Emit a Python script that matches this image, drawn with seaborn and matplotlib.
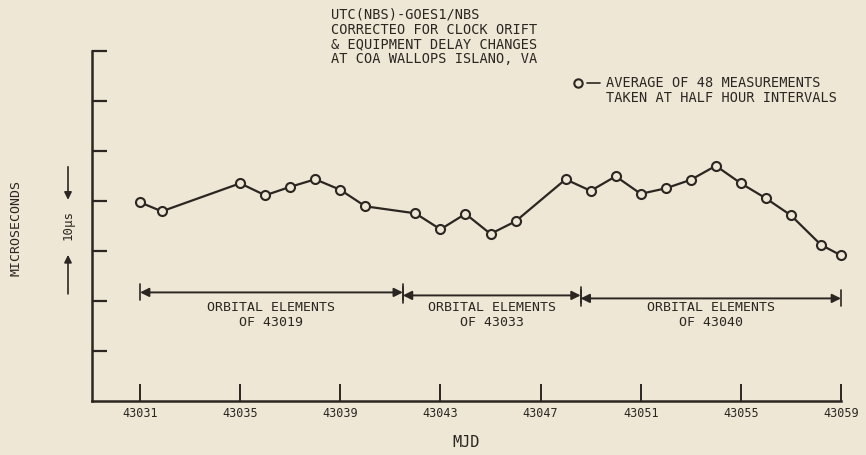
import matplotlib
matplotlib.use("Agg")
import matplotlib.pyplot as plt
import matplotlib.transforms as mtransforms
from matplotlib.lines import Line2D
import seaborn as sns
import numpy as np
import pandas as pd

# data (MJD, relative offset in microseconds)
mjd = [43031, 43031.87, 43035, 43036, 43037, 43038, 43039, 43040, 43042, 43043,
       43044, 43045, 43046, 43048, 43049, 43050, 43051, 43052, 43053, 43054,
       43055, 43056, 43057, 43058.2, 43059]
offset_us = [39.7, 37.9, 43.5, 41.1, 42.8, 44.3, 42.2, 38.9, 37.5, 34.3,
             37.4, 33.4, 35.9, 44.3, 42.0, 44.9, 41.4, 42.5, 44.2, 47.0,
             43.5, 40.5, 37.1, 31.2, 29.1]

x_ticks = [43031, 43035, 43039, 43043, 43047, 43051, 43055, 43059]
y_ticks = [10, 20, 30, 40, 50, 60, 70]

seg_bounds = [43031, 43041.5, 43048.6, 43059]
seg_y = [21.7, 21.1, 20.5]
seg_labels = ["ORBITAL ELEMENTS\nOF 43019", "ORBITAL ELEMENTS\nOF 43033", "ORBITAL ELEMENTS\nOF 43040"]

title_lines = ["UTC(NBS)-GOES1/NBS", "CORRECTEO FOR CLOCK ORIFT",
               "& EQUIPMENT DELAY CHANGES", "AT COA WALLOPS ISLANO, VA"]
legend_lines = ["AVERAGE OF 48 MEASUREMENTS", "TAKEN AT HALF HOUR INTERVALS"]

BG = "#eee7d5"
INK = "#2b2622"

sns.set_theme(style="white")
plt.rcParams["font.family"] = ["DejaVu Sans Mono", "DejaVu Sans"]
plt.rcParams["text.color"] = INK

fig = plt.figure(figsize=(8.66, 4.55), dpi=100, facecolor=BG)
ax = fig.add_axes([91.7 / 866, 54 / 455, 749.3 / 866, 350.3 / 455])
ax.set_facecolor(BG)

df = pd.DataFrame({"MJD": mjd, "offset": offset_us})
sns.lineplot(data=df, x="MJD", y="offset", ax=ax, color=INK, linewidth=1.6,
             marker="o", markersize=6.5, markerfacecolor=BG, markeredgecolor=INK,
             markeredgewidth=1.5, clip_on=False, zorder=5)

ax.set_xlim(43029.07, 43059)
ax.set_ylim(0, 70)
ax.set_xticks(x_ticks)
ax.set_xticklabels([str(t) for t in x_ticks], fontsize=8.5, color=INK)
ax.set_yticks(y_ticks)
ax.set_yticklabels([])
ax.tick_params(axis="x", which="major", bottom=True, direction="in", length=12,
               width=1.4, color=INK, pad=4)
ax.tick_params(axis="y", which="major", left=True, direction="in", length=11,
               width=1.6, color=INK)
for side in ["top", "right"]:
    ax.spines[side].set_visible(False)
for side in ["left", "bottom"]:
    ax.spines[side].set_color(INK)
    ax.spines[side].set_linewidth(1.8)
ax.set_xlabel("MJD", fontsize=11, color=INK, labelpad=11)
ax.set_ylabel("")

# orbital element spans
for i, lab in enumerate(seg_labels):
    x0, x1 = seg_bounds[i], seg_bounds[i + 1]
    y = seg_y[i]
    ax.annotate("", xy=(x0, y), xytext=(x1, y), annotation_clip=False,
                arrowprops=dict(arrowstyle="<|-|>", color=INK, lw=1.4,
                                mutation_scale=13, shrinkA=0, shrinkB=0))
    ax.plot([x0, x0], [y - 1.6, y + 1.6], color=INK, lw=1.2, clip_on=False)
    ax.plot([x1, x1], [y - 1.6, y + 1.6], color=INK, lw=1.2, clip_on=False)
    l1, l2 = lab.split("\n")
    xm = (x0 + x1) / 2
    ax.text(xm, 18.6, l1, ha="center", va="center", fontsize=9.5, color=INK)
    ax.text(xm, 15.6, l2, ha="center", va="center", fontsize=9.5, color=INK)

# 10 us scale marker on the left
trans = mtransforms.blended_transform_factory(fig.transFigure, ax.transData)
xs = 68 / 866
ax.annotate("", xy=(xs, 40.2), xytext=(xs, 46.8), xycoords=trans, textcoords=trans,
            arrowprops=dict(arrowstyle="-|>", color=INK, lw=1.2, mutation_scale=11,
                            shrinkA=0, shrinkB=0), annotation_clip=False)
ax.annotate("", xy=(xs, 29.2), xytext=(xs, 21.4), xycoords=trans, textcoords=trans,
            arrowprops=dict(arrowstyle="-|>", color=INK, lw=1.2, mutation_scale=11,
                            shrinkA=0, shrinkB=0), annotation_clip=False)
fig.text(xs, 1 - 224.5 / 455, "10μs", rotation=90, ha="center", va="center",
         fontsize=9, color=INK)
fig.text(16 / 866, 1 - 228.5 / 455, "MICROSECONDS", rotation=90, ha="center",
         va="center", fontsize=9.5, color=INK)

# header text
for k, line in enumerate(title_lines):
    fig.text(331 / 866, 1 - (15 + 14.8 * k) / 455, line, ha="left", va="center",
             fontsize=9.8, color=INK)

# legend note
fig.add_artist(Line2D([578 / 866], [1 - 83 / 455], transform=fig.transFigure,
                      marker="o", markersize=6, markerfacecolor=BG,
                      markeredgecolor=INK, markeredgewidth=1.5, linestyle="none"))
fig.add_artist(Line2D([587 / 866, 600 / 866], [1 - 83 / 455, 1 - 83 / 455],
                      transform=fig.transFigure, color=INK, lw=1.2))
for k, line in enumerate(legend_lines):
    fig.text(606 / 866, 1 - (83 + 15 * k) / 455, line, ha="left", va="center",
             fontsize=9.8, color=INK)

fig.savefig("out.png", dpi=100, facecolor=BG)
